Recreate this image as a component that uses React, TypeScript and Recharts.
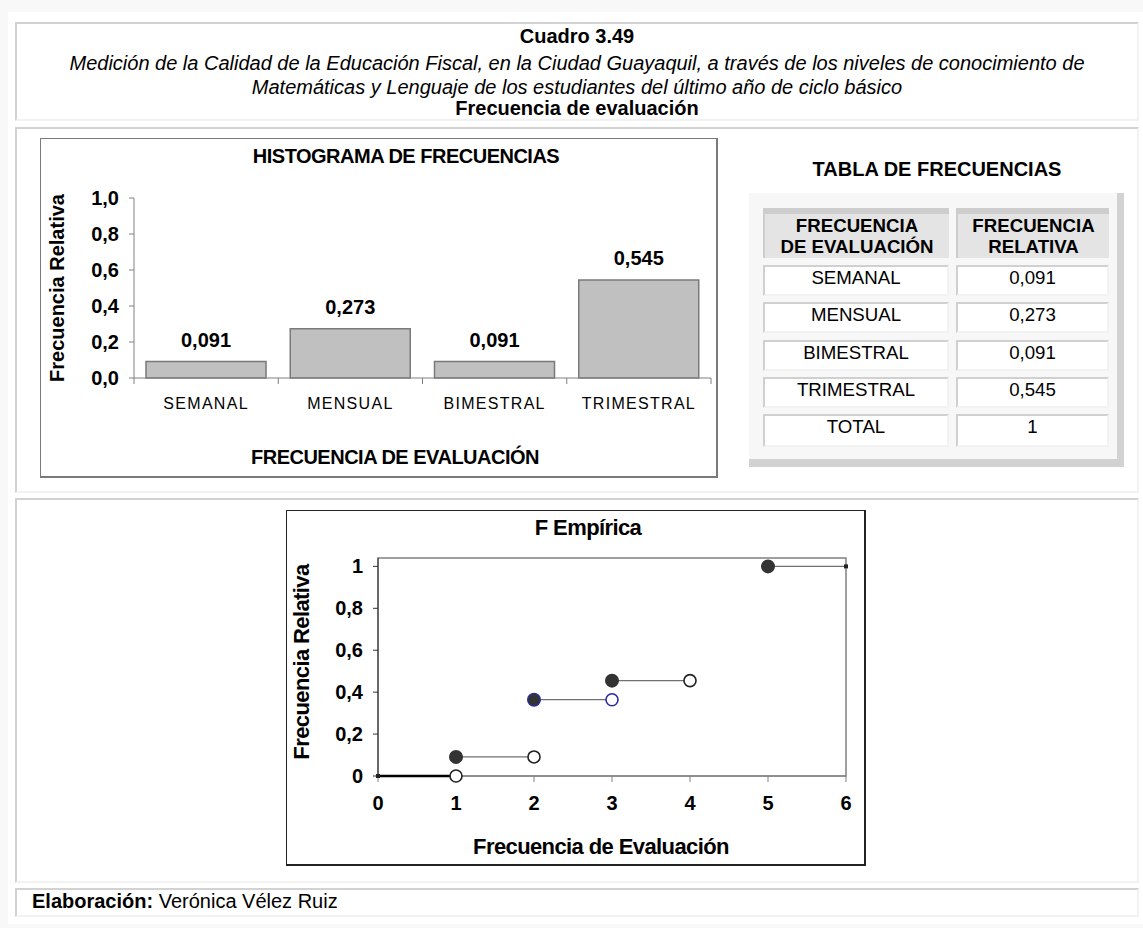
import React from 'react'
import { BarChart, Bar, XAxis, YAxis, LabelList, ScatterChart, Scatter, ReferenceArea } from 'recharts'

const FONT = '"Liberation Sans", Arial, Helvetica, sans-serif'

// histogram data
const categories = ['SEMANAL', 'MENSUAL', 'BIMESTRAL', 'TRIMESTRAL']
const relFreq = [0.091, 0.273, 0.091, 0.545]
const histTicks = [0, 0.2, 0.4, 0.6, 0.8, 1]

// empirical distribution (steps)
const stepFrom = [0, 1, 2, 3, 5]
const stepTo = [1, 2, 3, 4, 6]
const stepLevel = [0, 0.091, 0.364, 0.455, 1]
const cdfXTicks = [0, 1, 2, 3, 4, 5, 6]
const cdfYTicks = [0, 0.2, 0.4, 0.6, 0.8, 1]
const blueStep = 2

const comma = (v: number, d: number) => v.toFixed(d).replace('.', ',')
const cdfFmt = (v: number) => (v === 0 || v === 1 ? String(v) : comma(v, 1))

// layout of the histogram
const H_W = 678
const H_H = 340
const H_MARGIN = { top: 60, right: 7, bottom: 70, left: 34 }
const H_YW = 60
const H_PLOT_W = H_W - H_MARGIN.left - H_MARGIN.right - H_YW

const histData = categories.map((name, i) => ({ name, value: relFreq[i] }))

const segments = stepFrom.map((x0, i) => [
  { x: x0, y: stepLevel[i] },
  { x: stepTo[i], y: stepLevel[i] },
])
const closedDots = stepFrom.map((x, i) => ({ x, y: stepLevel[i], step: i })).filter((d) => d.step > 0)
const openDots = stepTo.map((x, i) => ({ x, y: stepLevel[i], step: i })).filter((d) => d.step < stepTo.length - 1)
const endMarks = [segments[0][0], segments[segments.length - 1][1]]

function CatTick(props: any) {
  const { x, y, payload, index } = props
  const half = H_PLOT_W / (2 * categories.length)
  return (
    <g>
      <line x1={x - half} x2={x - half} y1={y} y2={y + 6} stroke="#808080" />
      {index === categories.length - 1 && <line x1={x + half} x2={x + half} y1={y} y2={y + 6} stroke="#808080" />}
      <text x={x} y={y + 31} textAnchor="middle" fontSize={16} letterSpacing={1.3} fill="#000">
        {payload.value}
      </text>
    </g>
  )
}

function Panel({ top, height }: { top: number; height: number }) {
  return (
    <div
      style={{
        position: 'absolute',
        left: 15,
        top,
        width: 1124,
        height,
        boxSizing: 'border-box',
        borderTop: '2px solid #d2d2d2',
        borderLeft: '2px solid #d2d2d2',
        borderRight: '2px solid #f2f2f2',
        borderBottom: '2px solid #f2f2f2',
      }}
    />
  )
}

function Txt({ cx, cy, w = 800, style, children }: any) {
  return (
    <div
      style={{
        position: 'absolute',
        left: cx - w / 2,
        top: cy - 12,
        width: w,
        height: 24,
        lineHeight: '24px',
        textAlign: 'center',
        whiteSpace: 'nowrap',
        fontSize: 20,
        ...style,
      }}
    >
      {children}
    </div>
  )
}

function VText({ cx, cy, style, children }: any) {
  return (
    <div
      style={{
        position: 'absolute',
        left: cx - 150,
        top: cy - 12,
        width: 300,
        height: 24,
        lineHeight: '24px',
        textAlign: 'center',
        whiteSpace: 'nowrap',
        transform: 'rotate(-90deg)',
        fontSize: 20,
        fontWeight: 700,
        ...style,
      }}
    >
      {children}
    </div>
  )
}

const cellBase: React.CSSProperties = {
  position: 'absolute',
  boxSizing: 'border-box',
  borderTop: '2px solid #d0d0d0',
  borderLeft: '2px solid #d0d0d0',
  borderRight: '2px solid #f2f2f2',
  borderBottom: '2px solid #f2f2f2',
  background: '#fff',
  textAlign: 'center',
  fontSize: 18.67,
  lineHeight: '22px',
  whiteSpace: 'nowrap',
}

const headCell: React.CSSProperties = {
  ...cellBase,
  top: 208,
  height: 50,
  borderTop: '6px solid #cdcdcd',
  borderLeft: '2px solid #cdcdcd',
  borderRight: 'none',
  borderBottom: 'none',
  background: '#e4e4e4',
  fontWeight: 700,
  lineHeight: '21px',
  paddingTop: 1,
}

const COL1 = { left: 763, width: 186 }
const COL2 = { left: 956, width: 153 }

export default function App() {
  const total = relFreq.reduce((s, v) => s + v, 0)
  const tableRows = categories.map((c, i) => [c, comma(relFreq[i], 3)])
  tableRows.push(['TOTAL', String(Number(total.toFixed(3)))])

  return (
    <div
      style={{
        position: 'absolute',
        left: 0,
        top: 0,
        width: 1143,
        height: 928,
        background: '#f8f8f8',
        fontFamily: FONT,
        color: '#000',
        overflow: 'hidden',
      }}
    >
      <div style={{ position: 'absolute', left: 8, top: 12, width: 1135, height: 912, background: '#fff' }} />
      <Panel top={22} height={99} />
      <Panel top={127} height={366} />
      <Panel top={498} height={385} />
      <Panel top={888} height={29} />

      {/* header */}
      <Txt cx={577} cy={36} style={{ fontWeight: 700 }}>Cuadro 3.49</Txt>
      <Txt cx={577} cy={63} w={1120} style={{ fontStyle: 'italic' }}>
        Medición de la Calidad de la Educación Fiscal, en la Ciudad Guayaquil, a través de los niveles de conocimiento de
      </Txt>
      <Txt cx={577} cy={87} w={1120} style={{ fontStyle: 'italic' }}>
        Matemáticas y Lenguaje de los estudiantes del último año de ciclo básico
      </Txt>
      <Txt cx={577} cy={108} style={{ fontWeight: 700 }}>Frecuencia de evaluación</Txt>

      {/* histogram */}
      <div
        style={{
          position: 'absolute',
          left: 40,
          top: 138,
          width: H_W,
          height: H_H,
          boxSizing: 'border-box',
          border: '1px solid #7a7a7a',
          borderRight: '2px solid #7a7a7a',
          borderBottom: '2px solid #7a7a7a',
        }}
      />
      <div style={{ position: 'absolute', left: 40, top: 138 }}>
        <BarChart width={H_W} height={H_H} data={histData} margin={H_MARGIN} barSize={120}>
          <XAxis
            dataKey="name"
            height={30}
            interval={0}
            tickLine={false}
            tickSize={0}
            tickMargin={0}
            axisLine={{ stroke: '#808080' }}
            tick={(p: any) => <CatTick {...p} />}
          />
          <YAxis
            domain={[0, 1]}
            ticks={histTicks}
            interval={0}
            width={H_YW}
            tickSize={5}
            tickMargin={10}
            tickFormatter={(v: number) => comma(v, 1)}
            axisLine={{ stroke: '#808080' }}
            tickLine={{ stroke: '#808080' }}
            tick={{ fill: '#000', fontSize: 20, fontWeight: 700 }}
          />
          <Bar dataKey="value" fill="#c0c0c0" stroke="#7a7a7a" strokeWidth={1.5} isAnimationActive={false}>
            <LabelList
              dataKey="value"
              position="top"
              offset={15}
              formatter={(v: any) => comma(Number(v), 3)}
              fill="#000"
              fontSize={20}
              fontWeight={700}
            />
          </Bar>
        </BarChart>
      </div>
      <Txt cx={406} cy={156} style={{ fontWeight: 700, letterSpacing: -0.5 }}>HISTOGRAMA DE FRECUENCIAS</Txt>
      <Txt cx={395} cy={457} style={{ fontWeight: 700, letterSpacing: -0.5 }}>FRECUENCIA DE EVALUACIÓN</Txt>
      <VText cx={57} cy={288}>Frecuencia Relativa</VText>

      {/* table */}
      <Txt cx={937} cy={169} style={{ fontWeight: 700 }}>TABLA DE FRECUENCIAS</Txt>
      <div
        style={{
          position: 'absolute',
          left: 749,
          top: 193,
          width: 368,
          height: 266,
          background: '#f7f7f7',
          borderRight: '7px solid #d2d2d2',
          borderBottom: '8px solid #d2d2d2',
        }}
      />
      <div style={{ ...headCell, ...COL1 }}>
        FRECUENCIA
        <br />
        DE EVALUACIÓN
      </div>
      <div style={{ ...headCell, ...COL2 }}>
        FRECUENCIA
        <br />
        RELATIVA
      </div>
      {tableRows.map((r, i) => {
        const top = 265 + i * 37.3
        const height = i === tableRows.length - 1 ? 33 : 31
        return (
          <React.Fragment key={r[0]}>
            <div style={{ ...cellBase, ...COL1, top, height }}>{r[0]}</div>
            <div style={{ ...cellBase, ...COL2, top, height }}>{r[1]}</div>
          </React.Fragment>
        )
      })}

      {/* empirical distribution */}
      <div
        style={{
          position: 'absolute',
          left: 286,
          top: 510,
          width: 580,
          height: 356,
          boxSizing: 'border-box',
          border: '1px solid #222',
          borderRight: '2px solid #222',
          borderBottom: '2px solid #222',
        }}
      />
      <div style={{ position: 'absolute', left: 286, top: 510 }}>
        <ScatterChart width={579} height={356} margin={{ top: 48, right: 19, bottom: 50, left: 42 }}>
          <XAxis
            type="number"
            dataKey="x"
            domain={[0, 6]}
            ticks={cdfXTicks}
            interval={0}
            height={40}
            tickSize={6}
            tickMargin={14}
            axisLine={{ stroke: '#808080' }}
            tickLine={{ stroke: '#808080' }}
            tick={{ fill: '#000', fontSize: 20, fontWeight: 700 }}
          />
          <YAxis
            type="number"
            dataKey="y"
            domain={[0, 1.04]}
            ticks={cdfYTicks}
            interval={0}
            width={50}
            tickSize={5}
            tickMargin={10}
            tickFormatter={cdfFmt}
            axisLine={{ stroke: '#333' }}
            tickLine={{ stroke: '#333' }}
            tick={{ fill: '#000', fontSize: 20, fontWeight: 700 }}
          />
          <ReferenceArea x1={0} x2={6} y1={0} y2={1.04} fill="none" stroke="#808080" strokeWidth={1.5} ifOverflow="visible" />
          {segments.map((seg, i) => (
            <Scatter
              key={'seg' + i}
              data={seg}
              line={{ stroke: i === 0 ? '#000' : '#707070', strokeWidth: i === 0 ? 2.5 : 1.3 }}
              shape={() => <g />}
              isAnimationActive={false}
            />
          ))}
          <Scatter
            data={endMarks}
            isAnimationActive={false}
            shape={(p: any) => <rect x={p.cx - 2} y={p.cy - 2} width={4} height={4} fill="#222" />}
          />
          <Scatter
            data={openDots}
            isAnimationActive={false}
            shape={(p: any) => (
              <circle
                cx={p.cx}
                cy={p.cy}
                r={6}
                fill="#fff"
                stroke={p.payload.step === blueStep ? '#2a2aa5' : '#222'}
                strokeWidth={1.6}
              />
            )}
          />
          <Scatter
            data={closedDots}
            isAnimationActive={false}
            shape={(p: any) => (
              <circle
                cx={p.cx}
                cy={p.cy}
                r={6.3}
                fill="#333"
                stroke={p.payload.step === blueStep ? '#2a2aa5' : '#333'}
                strokeWidth={1.4}
              />
            )}
          />
        </ScatterChart>
      </div>
      <Txt cx={588} cy={528} style={{ fontWeight: 700, fontSize: 22, letterSpacing: -0.6 }}>F Empírica</Txt>
      <Txt cx={601} cy={847} style={{ fontWeight: 700, fontSize: 22, letterSpacing: -0.6 }}>Frecuencia de Evaluación</Txt>
      <VText cx={302} cy={662} style={{ fontSize: 22, letterSpacing: -0.6 }}>Frecuencia Relativa</VText>

      {/* footer */}
      <div style={{ position: 'absolute', left: 32, top: 889, height: 24, lineHeight: '24px', fontSize: 20, whiteSpace: 'nowrap' }}>
        <b>Elaboración:</b> Verónica Vélez Ruiz
      </div>
    </div>
  )
}
